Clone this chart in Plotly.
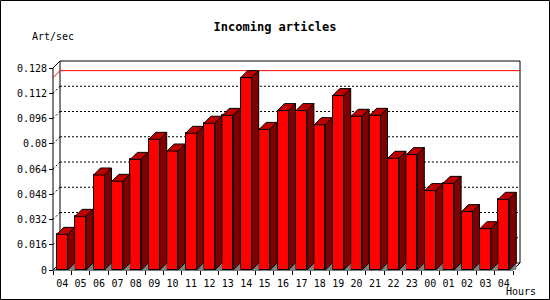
import plotly.graph_objects as go

# ---------------- data ----------------
hours = ["04", "05", "06", "07", "08", "09", "10", "11", "12", "13", "14", "15", "16",
         "17", "18", "19", "20", "21", "22", "23", "00", "01", "02", "03", "04"]
rate = [0.0226, 0.0340, 0.0602, 0.0562, 0.0701, 0.0828, 0.0754, 0.0866, 0.0930, 0.0980,
        0.1219, 0.0891, 0.1010, 0.1010, 0.0921, 0.1105, 0.0974, 0.0980, 0.0708, 0.0731,
        0.0503, 0.0549, 0.0370, 0.0262, 0.0448]
y_ticks = [0, 0.016, 0.032, 0.048, 0.064, 0.08, 0.096, 0.112, 0.128]
y_tick_text = ["0", "0.016", "0.032", "0.048", "0.064", "0.08", "0.096", "0.112", "0.128"]

title = "Incoming articles"
y_title = "Art/sec"
x_title = "Hours"

# ---------------- layout geometry ----------------
W, H = 550, 300
PX_CAT = 18.4        # pixels per category slot
PX_UNIT = 1578.1     # pixels per unit of value
ORIGIN_X, ORIGIN_Y = 53, 270
DEPTH = 7            # 3D depth in pixels
PL, PR, PT, PB = 48, 525, 56, 275   # plot area in pixels

FONT = "DejaVu Sans Mono"
dx = DEPTH / PX_CAT
dy = DEPTH / PX_UNIT
n = len(rate)
ytop = y_ticks[-1]
bar_w = 11 / PX_CAT

x_range = [(PL - ORIGIN_X) / PX_CAT, (PR - ORIGIN_X) / PX_CAT]
y_range = [(ORIGIN_Y - PB) / PX_UNIT, (ORIGIN_Y - PT) / PX_UNIT]


def px_x(p):
    return (p - PL) / (PR - PL)


def px_y(p):
    return (PB - p) / (PB - PT)


centers = [i + 0.5 for i in range(n)]

tops_x, tops_y, sides_x, sides_y, floor_x, floor_y = [], [], [], [], [], []
for c, v in zip(centers, rate):
    l = c - bar_w / 2
    r = c + bar_w / 2
    tops_x += [l, l + dx, r + dx, r, l, None]
    tops_y += [v, v + dy, v + dy, v, v, None]
    sides_x += [r, r + dx, r + dx, r, r, None]
    sides_y += [v, v + dy, dy, 0, v, None]
    floor_x += [r, r + dx, r + dx, r, None]
    floor_y += [0, dy, 0, 0, None]

fig = go.Figure()
fig.add_trace(go.Bar(x=centers, y=rate, width=bar_w,
                     marker=dict(color="#FF0000", line=dict(color="black", width=1)),
                     hoverinfo="skip", showlegend=False))
fig.add_trace(go.Scatter(x=floor_x, y=floor_y, mode="lines", fill="toself",
                         fillcolor="#808080", line=dict(width=0, color="#808080"),
                         hoverinfo="skip", showlegend=False))
fig.add_trace(go.Scatter(x=tops_x, y=tops_y, mode="lines", fill="toself",
                         fillcolor="#C00000", line=dict(width=1, color="black"),
                         hoverinfo="skip", showlegend=False))
fig.add_trace(go.Scatter(x=sides_x, y=sides_y, mode="lines", fill="toself",
                         fillcolor="#800000", line=dict(width=1, color="black"),
                         hoverinfo="skip", showlegend=False))

shapes = []


def seg(x0, y0, x1, y1, color="black", dash="solid", ref="x", layer="below"):
    shapes.append(dict(type="line", xref=ref, yref="y" if ref == "x" else "paper",
                       x0=x0, y0=y0, x1=x1, y1=y1, layer=layer,
                       line=dict(color=color, width=1, dash=dash)))


# back-wall gridlines (dotted) and connecting diagonals
for v in y_ticks[1:-1]:
    seg(dx, v + dy, n + dx, v + dy, dash="2px,2px")
    seg(0, v, dx, v + dy, dash="2px,2px")
# back wall frame
seg(dx, dy, dx, ytop + dy)
seg(dx, ytop + dy, n + dx, ytop + dy)
seg(n + dx, dy, n + dx, ytop + dy)
seg(dx, dy, n + dx, dy)
# front axis and floor
seg(0, 0, 0, ytop)
seg(0, ytop, dx, ytop + dy)
seg(0, 0, dx, dy)
seg(0, 0, n, 0)
seg(n, 0, n + dx, dy)
# maximum line
vmax = max(rate)
seg(dx, vmax + dy, n + dx, vmax + dy, color="#FF0000")
seg(0, vmax, dx, vmax + dy, color="#FF0000")

# image border
shapes.append(dict(type="rect", xref="paper", yref="paper",
                   x0=px_x(0.5), x1=px_x(W - 0.5), y0=px_y(H - 0.5), y1=px_y(0.5),
                   line=dict(color="black", width=1), layer="above"))

fig.update_layout(
    width=W, height=H,
    margin=dict(l=PL, r=W - PR, t=PT, b=H - PB, pad=0),
    paper_bgcolor="white", plot_bgcolor="white",
    bargap=0,
    shapes=shapes,
    title=dict(text="<b>" + title + "</b>", x=0.5, xanchor="center",
               y=1 - 27 / H, yanchor="middle", yref="container",
               font=dict(family=FONT, size=12, color="black")),
    annotations=[
        dict(text=y_title, xref="paper", yref="paper", x=px_x(30), y=px_y(37),
             xanchor="left", yanchor="middle", showarrow=False,
             font=dict(family=FONT, size=10, color="black")),
        dict(text=x_title, xref="paper", yref="paper", x=px_x(504), y=px_y(291),
             xanchor="left", yanchor="middle", showarrow=False,
             font=dict(family=FONT, size=10, color="black")),
    ],
    xaxis=dict(range=x_range, anchor="free",
               position=(PB - ORIGIN_Y) / (PB - PT),
               tickmode="array", tickvals=centers, ticktext=hours,
               ticks="outside", ticklen=4, tickcolor="rgba(0,0,0,0)",
               minor=dict(tickmode="array", tickvals=list(range(n + 1)),
                          ticks="outside", ticklen=4, tickcolor="black",
                          showgrid=False),
               showgrid=False, zeroline=False, showline=False,
               tickfont=dict(family=FONT, size=10, color="black")),
    yaxis=dict(range=y_range, anchor="free",
               position=(ORIGIN_X - PL) / (PR - PL),
               tickmode="array", tickvals=y_ticks, ticktext=y_tick_text,
               ticks="outside", ticklen=4, tickcolor="black",
               showgrid=False, zeroline=False, showline=False,
               tickfont=dict(family=FONT, size=10, color="black")),
)

fig.write_html("out.html")
